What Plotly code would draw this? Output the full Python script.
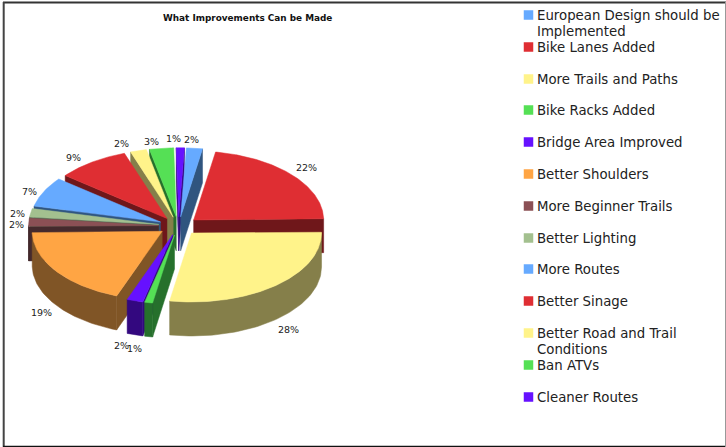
import numpy as np
import plotly.graph_objects as go

# Survey responses, percent of total, clockwise from twelve o'clock
categories = [
    "European Design should be<br>Implemented", "Bike Lanes Added", "More Trails and Paths",
    "Bike Racks Added", "Bridge Area Improved", "Better Shoulders", "More Beginner Trails",
    "Better Lighting", "More Routes", "Better Sinage",
    "Better Road and Trail<br>Conditions", "Ban ATVs", "Cleaner Routes",
]
values = [2, 22, 28, 1, 2, 19, 2, 2, 7, 9, 2, 3, 1]
top_colors = ["#66AAFF", "#DF2E33", "#FFF38A", "#55E055", "#6611FF", "#FFA544", "#8B5055",
              "#A3C08F", "#66AAFF", "#DF2E33", "#FFF38A", "#55E055", "#6611FF"]
side_colors = ["#30557F", "#6F171A", "#857F4A", "#26702C", "#33087F", "#805526", "#452A2D",
               "#50604A", "#30557F", "#6F171A", "#857F4A", "#26702C", "#33087F"]
legend_y = [15, 47, 79, 110, 142, 174, 206, 238, 269, 301, 333, 365, 397]
title = "What Improvements Can be Made"

# Projection of the tilted pie onto page pixels
CX, CY = 178.5, 226.0
RX, RY = 130.0, 69.0
EXPLODE_X, EXPLODE_Y = 20.0, 9.2
DEPTH = 34.0
START_DEG = 2.5
LEGEND_LINE = 16

# Per-label nudges for the crowded percent labels (dx, dy)
label_nudge = {0: (-5, 1), 1: (2, -1), 2: (2, 3), 3: (-11, 2), 4: (-9, 1), 5: (-2, 2),
               6: (4, 2), 7: (3, 2), 8: (0, 4), 9: (-9, 3), 10: (-13, 2), 11: (-8, 3),
               12: (-7, 1)}

fig = go.Figure()


def polygon(xs, ys, color):
    fig.add_trace(go.Scatter(x=xs, y=ys, mode="lines", fill="toself", fillcolor=color,
                             line=dict(color=color, width=0.5), hoverinfo="skip",
                             showlegend=False))


def rim(ax, ay, deg):
    t = np.radians(deg)
    return ax + RX * np.sin(t), ay - RY * np.cos(t)


edges = START_DEG + np.concatenate([[0], np.cumsum(values)]) * 360.0 / sum(values)
mids = (edges[:-1] + edges[1:]) / 2

# Paint from the back of the pie towards the viewer
annotations = []
for i in sorted(range(len(values)), key=lambda k: -np.cos(np.radians(mids[k]))):
    a, b, m = edges[i], edges[i + 1], mids[i]
    tm = np.radians(m)
    ax = CX + EXPLODE_X * np.sin(tm)
    ay = CY - EXPLODE_Y * np.cos(tm)

    for deg, visible in ((a, np.sin(np.radians(a)) < 0), (b, np.sin(np.radians(b)) > 0)):
        if visible:
            px, py = rim(ax, ay, deg)
            polygon([ax, px, px, ax, ax], [ay, py, py + DEPTH, ay + DEPTH, ay], side_colors[i])

    lo, hi = max(a, 90.0), min(b, 270.0)
    if hi > lo:
        arc = np.linspace(lo, hi, 60)
        px, py = rim(ax, ay, arc)
        polygon(np.r_[px, px[::-1], px[0]], np.r_[py, py[::-1] + DEPTH, py[0]], side_colors[i])

    arc = np.linspace(a, b, max(int((b - a) * 2), 6))
    px, py = rim(ax, ay, arc)
    polygon(np.r_[ax, px, ax], np.r_[ay, py, ay], top_colors[i])

    lx = ax + 146 * np.sin(tm)
    ly = ay - 79 * np.cos(tm)
    if np.cos(tm) < 0:
        ly += DEPTH
    dx, dy = label_nudge.get(i, (0, 0))
    annotations.append(dict(x=lx + dx, y=ly + dy, text=f"{values[i]}%", showarrow=False,
                            xanchor="center", yanchor="middle",
                            font=dict(family="DejaVu Sans", size=9.5, color="#222222")))

# Legend drawn as square keys with wrapped labels, one text per line
fig.add_trace(go.Scatter(x=[528.5] * len(categories), y=legend_y, mode="markers",
                         marker=dict(symbol="square", size=9.5, color=top_colors, line=dict(width=0)),
                         hoverinfo="skip", showlegend=False))
for name, y in zip(categories, legend_y):
    for n, line in enumerate(name.split("<br>")):
        annotations.append(dict(x=535.5, y=y + n * LEGEND_LINE, text=line, showarrow=False,
                                xanchor="left", yanchor="middle", borderpad=0,
                                font=dict(family="DejaVu Sans", size=13.3, color="#222222")))

annotations.append(dict(x=247.5, y=17.5, text=f"<b>{title}</b>", showarrow=False,
                        xanchor="center", yanchor="middle",
                        font=dict(family="DejaVu Sans", size=8.9, color="#111111")))


def frame_line(x0, y0, x1, y1, color, width):
    return dict(type="line", xref="x", yref="y", x0=x0, y0=y0, x1=x1, y1=y1,
                line=dict(color=color, width=width), layer="below")


fig.update_layout(
    width=726, height=447, margin=dict(l=0, r=0, t=0, b=0),
    paper_bgcolor="white", plot_bgcolor="white", annotations=annotations,
    xaxis=dict(range=[0, 726], visible=False, fixedrange=True),
    yaxis=dict(range=[447, 0], visible=False, fixedrange=True),
    shapes=[
        frame_line(3, 2.5, 726, 2.5, "#333333", 2),
        frame_line(3.7, 2, 3.7, 447, "#444444", 2),
        frame_line(3, 446.5, 726, 446.5, "#111111", 1.5),
        frame_line(725.5, 2, 725.5, 447, "#999999", 1),
    ],
)
fig.write_html("out.html", config={"displayModeBar": False})
